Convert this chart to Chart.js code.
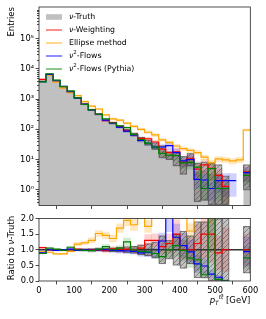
<!DOCTYPE html>
<html>
<head>
<meta charset="utf-8">
<script src="https://cdn.jsdelivr.net/npm/chart.js@4"></script>
<style>
  html, body { margin: 0; padding: 0; background: #fff; }
  #wrap { position: relative; width: 266px; height: 319px; }
  canvas { position: absolute; left: 0; }
  #topChart { top: 0; }
  #ratioChart { top: 212px; }
</style>
</head>
<body>
<div id="wrap">
  <canvas id="topChart" width="266" height="212" style="width:266px;height:212px"></canvas>
  <canvas id="ratioChart" width="266" height="107" style="width:266px;height:107px"></canvas>
</div>
<script>
// bins of p_T(tt) in GeV
const binEdges = [0, 20, 40, 60, 80, 100, 120, 140, 160, 180, 200, 220, 240, 260, 280, 300,
  320, 340, 360, 380, 400, 420, 440, 460, 480, 500, 520, 540, 560, 580, 600];

// entries per bin (top panel)
const truth = [4200, 6600, 4200, 2650, 1720, 1100, 680, 450, 315, 200, 162, 123, 91, 68, 48, 37,
  29, 20, 14, 12, 8, 11, 4, 4.4, 3.4, 3.4, 1.3, 0, 0, 3.9];
const weighting = [4500, 6600, 4100, 2600, 1720, 1120, 680, 450, 315, 194, 167, 123, 93, 68, 50, 48,
  38, 22, 17, 18, 8, 11, 4.8, 6.6, 5.1, 3, 1.3, 0, 0, 3.9];
const ellipse = [3900, 6100, 3650, 2300, 1630, 1300, 830, 585, 470, 300, 220, 200, 160, 125, 100, 80,
  65, 45, 37, 28, 23, 20, 17, 12, 7.8, 10.5, 9.8, 9, 9.8, 95];
const flows = [3780, 6600, 4120, 2650, 1750, 1080, 680, 440, 315, 200, 159, 119, 87, 65, 43, 34,
  26, 26, 29, 17, 9, 10, 2.2, 2.1, 1.1, 2, 2, 2, 0, 3.7];
const flowsPythia = [3700, 6900, 4280, 2600, 1860, 1100, 670, 440, 320, 220, 162, 129, 114, 68, 46, 34,
  26, 16, 14, 13.5, 7.8, 8, 5.6, 1.1, 5, 1.1, 1.1, 0, 0, 3];

// ratio to truth (bottom panel)
const weightingRatio = [1.07, 1.0, 0.98, 0.98, 1.0, 1.02, 1.0, 1.0, 1.0, 0.97, 1.03, 1.0, 1.02, 1.0, 1.05, 1.3,
  1.3, 1.1, 1.2, 1.5, 1.0, 1.0, 1.2, 1.5, 1.5, 0.9, 1.0, null, null, 1.0];
const ellipseRatio = [0.93, 0.92, 0.87, 0.87, 0.95, 1.18, 1.22, 1.3, 1.52, 1.46, 1.36, 1.69, 1.94, 1.8, 2.3, 1.75,
  2.3, 2.3, 2.6, 2.3, 2.9, 1.6, 4.2, 2.7, 2.3, 3.1, 7.5, null, null, 24];
const flowsRatio = [0.9, 1.0, 0.98, 1.0, 1.02, 0.98, 1.0, 0.98, 1.0, 1.0, 0.98, 0.97, 0.96, 0.95, 0.9, 0.92,
  0.88, 1.28, 2.1, 1.4, 1.13, 0.93, 0.55, 0.48, 0.22, 0.12, 0, null, null, 0.94];
const flowsPythiaRatio = [0.88, 1.05, 1.02, 0.98, 1.08, 1.0, 0.98, 0.97, 1.02, 1.1, 1.0, 1.05, 1.25, 1.0, 0.95, 0.93,
  0.88, 0.78, 1.0, 1.13, 0.98, 0.73, 0.68, 0.2, 2.3, 0.05, 0, null, null, 0.74];

// relative uncertainties per bin
const truthErr = [0.01, 0.01, 0.01, 0.015, 0.02, 0.025, 0.03, 0.035, 0.04, 0.05, 0.06, 0.08, 0.1, 0.12, 0.16, 0.2,
  0.25, 0.45, 0.3, 0.5, 0.6, 0.45, 0.9, 0.9, 1.2, 1.0, 1.2, 0, 0, 0.75];
const weightingErr = [0.02, 0.02, 0.02, 0.02, 0.03, 0.03, 0.04, 0.04, 0.05, 0.06, 0.07, 0.08, 0.09, 0.1, 0.12, 0.14,
  0.16, 0.2, 0.25, 0.3, 0.3, 0.35, 0.5, 0.5, 0.6, 0.6, 0.7, 0.7, 0.7, 0.5];
const ellipseErr = [0.02, 0.02, 0.02, 0.03, 0.03, 0.05, 0.05, 0.06, 0.06, 0.07, 0.08, 0.08, 0.09, 0.1, 0.1, 0.11,
  0.12, 0.12, 0.13, 0.14, 0.15, 0.15, 0.16, 0.18, 0.2, 0.2, 0.2, 0.2, 0.2, 0.08];
const flowsErr = [0.02, 0.02, 0.02, 0.02, 0.03, 0.03, 0.04, 0.05, 0.05, 0.06, 0.07, 0.08, 0.09, 0.1, 0.12, 0.15,
  0.18, 0.2, 0.25, 0.3, 0.35, 0.4, 0.5, 0.5, 0.6, 0.6, 0.7, 0.7, 0.7, 0.5];
const flowsPythiaErr = [0.02, 0.02, 0.02, 0.02, 0.03, 0.03, 0.04, 0.05, 0.05, 0.06, 0.07, 0.08, 0.1, 0.1, 0.12, 0.14,
  0.18, 0.22, 0.25, 0.3, 0.35, 0.4, 0.5, 0.6, 0.6, 0.6, 0.7, 0.7, 0.7, 0.5];

// axis ticks
const xTicks = [0, 100, 200, 300, 400, 500, 600];
const logTicks = [1, 10, 100, 1000, 10000, 100000];
const ratioTicks = [0, 0.5, 1.0, 1.5, 2.0];
const unity = 1;

const FONT = 'DejaVu Sans';
const TICK_SIZE = 8.3;
const LABEL_SIZE = 8.5;
const LEGEND_SIZE = 7.8;

const YMIN = 0.32, YMAX = 1.12e6;

const binCenters = binEdges.slice(0, -1).map((e, i) => (e + binEdges[i + 1]) / 2);

function stepPoints(vals) {
    const pts = [];
    vals.forEach((v, i) => {
        pts.push({ x: binEdges[i], y: v }, { x: binEdges[i + 1], y: v });
    });
    return pts;
}

function boxes(vals, err, floor) {
    const out = [];
    vals.forEach((v, i) => {
        if (v === null || v === 0 || err[i] === null) return;
        const lo = Math.max(v * (1 - err[i]), floor);
        out.push({ x: binCenters[i], y: [lo, v * (1 + err[i])] });
    });
    return out;
}

function hatch() {
    const c = document.createElement('canvas');
    c.width = 5; c.height = 5;
    const g = c.getContext('2d');
    g.fillStyle = 'rgba(95,85,85,0.36)';
    g.fillRect(0, 0, 5, 5);
    g.strokeStyle = 'rgba(60,60,60,0.6)';
    g.lineWidth = 0.8;
    g.beginPath();
    g.moveTo(0, 5); g.lineTo(5, 0);
    g.moveTo(-1, 1); g.lineTo(1, -1);
    g.moveTo(4, 6); g.lineTo(6, 4);
    g.stroke();
    return g.createPattern(c, 'repeat');
}
const hatchFill = hatch();

const series = [
    { label: 'ν-Weighting', color: '#ff0000', band: 'rgba(255,0,0,0.18)' },
    { label: 'Ellipse method', color: '#ffa500', band: 'rgba(255,165,0,0.25)' },
    { label: 'ν²-Flows', color: '#0000ff', band: 'rgba(0,0,255,0.18)' },
    { label: 'ν²-Flows (Pythia)', color: '#008000', band: 'rgba(0,128,0,0.18)' }
];

function lineSet(vals, color, order) {
    return {
        type: 'line', data: stepPoints(vals), borderColor: color, borderWidth: 1.2,
        pointRadius: 0, fill: false, tension: 0, order: order, clip: 0
    };
}
function barSet(data, bg, order, border) {
    return {
        type: 'bar', data: data, backgroundColor: bg, borderWidth: border ? 0.6 : 0,
        borderColor: 'rgba(60,55,55,0.6)', borderSkipped: false, grouped: false,
        barPercentage: 1, categoryPercentage: 1, order: order, clip: 0
    };
}

// rich text helper for labels with italic / super / subscripts
function runsWidth(ctx, runs, size) {
    let w = 0;
    runs.forEach(([t, st]) => {
        const small = st.includes('sup') || st.includes('sub');
        ctx.font = (st.startsWith('i') ? 'italic ' : '') + (small ? size * 0.7 : size) + 'px "' + FONT + '"';
        w += ctx.measureText(t).width;
    });
    return w;
}
function drawRuns(ctx, x, y, runs, size) {
    let cx = x;
    runs.forEach(([t, st]) => {
        const small = st.includes('sup') || st.includes('sub');
        const fs = small ? size * 0.7 : size;
        ctx.font = (st.startsWith('i') ? 'italic ' : '') + fs + 'px "' + FONT + '"';
        const dy = st.includes('sup') ? -size * 0.42 : st.includes('sub') ? size * 0.22 : 0;
        ctx.fillText(t, cx, y + dy);
        const w = ctx.measureText(t).width;
        if (st.includes('bar')) {
            ctx.save();
            ctx.strokeStyle = '#000'; ctx.lineWidth = 0.6;
            ctx.beginPath();
            ctx.moveTo(cx + 0.3, y + dy - fs * 0.85);
            ctx.lineTo(cx + w - 0.3, y + dy - fs * 0.85);
            ctx.stroke();
            ctx.restore();
        }
        cx += w;
    });
}

const framePlugin = {
    id: 'frame',
    afterDraw(chart) {
        const { ctx, chartArea: a } = chart;
        ctx.save();
        ctx.strokeStyle = '#222';
        ctx.lineWidth = 0.8;
        ctx.strokeRect(a.left, a.top, a.right - a.left, a.bottom - a.top);
        const ys = chart.scales.y;
        if (ys.type === 'logarithmic') {
            ctx.beginPath();
            for (let e = -1; e <= 6; e++) {
                for (let m = 2; m <= 9; m++) {
                    const v = m * Math.pow(10, e);
                    if (v < YMIN || v > YMAX) continue;
                    const py = Math.round(ys.getPixelForValue(v)) + 0.5;
                    ctx.moveTo(a.left, py);
                    ctx.lineTo(a.left - 2, py);
                }
            }
            ctx.stroke();
        }
        ctx.restore();
    }
};

const supDigits = ['⁰', '¹', '²', '³', '⁴', '⁵', '⁶'];

function axisCommon(extra) {
    return Object.assign({
        grid: { drawOnChartArea: false, drawTicks: true, tickLength: 3.5, color: '#222', lineWidth: 0.8 },
        border: { display: false }
    }, extra);
}

// ---------- top panel ----------
const topLegend = {
    id: 'topLegend',
    afterDraw(chart) {
        const ctx = chart.ctx;
        ctx.save();
        ctx.textBaseline = 'middle';
        ctx.fillStyle = '#000';
        const rows = [17, 30, 43, 56, 69];
        // truth patch
        ctx.fillStyle = '#c0c0c0';
        ctx.fillRect(46, rows[0] - 2.8, 16, 5.6);
        ctx.fillStyle = '#000';
        drawRuns(ctx, 69, rows[0], [['ν', 'i'], ['-Truth', '']], LEGEND_SIZE);
        const labels = [
            [['ν', 'i'], ['-Weighting', '']],
            [['Ellipse method', '']],
            [['ν', 'i'], ['2', 'sup'], ['-Flows', '']],
            [['ν', 'i'], ['2', 'sup'], ['-Flows (Pythia)', '']]
        ];
        series.forEach((s, i) => {
            const y = rows[i + 1];
            ctx.strokeStyle = s.color;
            ctx.globalAlpha = 0.75;
            ctx.lineWidth = 1.2;
            ctx.beginPath();
            ctx.moveTo(46, y); ctx.lineTo(62, y);
            ctx.stroke();
            ctx.globalAlpha = 1;
            drawRuns(ctx, 69, y, labels[i], LEGEND_SIZE);
        });
        // y label
        ctx.translate(12, 7);
        ctx.rotate(-Math.PI / 2);
        ctx.textAlign = 'right';
        ctx.font = LABEL_SIZE + 'px "' + FONT + '"';
        ctx.fillText('Entries', 0, 0);
        ctx.restore();
    }
};

const topVals = [weighting, ellipse, flows, flowsPythia];
const topErrs = [weightingErr, ellipseErr, flowsErr, flowsPythiaErr];

const topDatasets = [
    {
        type: 'line', data: stepPoints(truth), borderWidth: 0, borderColor: 'rgba(0,0,0,0)',
        backgroundColor: '#c0c0c0', fill: 'start', pointRadius: 0, tension: 0, order: 20, clip: 0
    },
    barSet(boxes(truth, truthErr, YMIN), hatchFill, 9, true)
];
series.forEach((s, i) => {
    topDatasets.push(barSet(boxes(topVals[i], topErrs[i], YMIN), s.band, 15 - i, false));
    topDatasets.push(lineSet(topVals[i], s.color, 5 - i));
});

new Chart(document.getElementById('topChart'), {
    type: 'line',
    data: { datasets: topDatasets },
    options: {
        responsive: false, animation: false, events: [],
        layout: { padding: { top: 7, right: 15.7, left: 0, bottom: 0 } },
        plugins: { legend: { display: false }, tooltip: { enabled: false } },
        scales: {
            x: axisCommon({
                type: 'linear', min: 0, max: 600, offset: false,
                afterBuildTicks: s => { s.ticks = xTicks.map(v => ({ value: v })); },
                afterFit: s => { s.height = 6; },
                ticks: { display: false }
            }),
            y: axisCommon({
                type: 'logarithmic', min: YMIN, max: YMAX,
                afterBuildTicks: s => { s.ticks = logTicks.map(v => ({ value: v })); },
                afterFit: s => { s.width = 39; },
                ticks: {
                    color: '#000', padding: 1.5, font: { family: FONT, size: TICK_SIZE },
                    callback: v => '10' + supDigits[Math.round(Math.log10(v))]
                }
            })
        }
    },
    plugins: [framePlugin, topLegend]
});

// ---------- ratio panel ----------
const ratioVals = [weightingRatio, ellipseRatio, flowsRatio, flowsPythiaRatio];
const ratioDatasets = [
    barSet(boxes(truth.map(v => (v ? unity : null)), truthErr, 0), hatchFill, 9, true),
    {
        type: 'line', data: [{ x: binEdges[0], y: unity }, { x: binEdges[binEdges.length - 1], y: unity }],
        borderColor: '#333', borderWidth: 1.3, pointRadius: 0, fill: false, order: 6, clip: 0
    }
];
series.forEach((s, i) => {
    ratioDatasets.push(barSet(boxes(ratioVals[i], topErrs[i], 0), s.band, 15 - i, false));
    ratioDatasets.push(lineSet(ratioVals[i], s.color, 5 - i));
});

const ratioLabels = {
    id: 'ratioLabels',
    afterDraw(chart) {
        const ctx = chart.ctx;
        ctx.save();
        ctx.fillStyle = '#000';
        ctx.textBaseline = 'alphabetic';
        const xl = [['p', 'i'], ['T', 'isub'], ['t', 'isup'], ['t', 'isupbar'], [' [GeV]', '']];
        const w = runsWidth(ctx, xl, LABEL_SIZE);
        drawRuns(ctx, 250.3 - w, 91, xl, LABEL_SIZE);
        const yl = [['Ratio to ', ''], ['ν', 'i'], ['-Truth', '']];
        const wy = runsWidth(ctx, yl, LABEL_SIZE);
        ctx.translate(12, 36);
        ctx.rotate(-Math.PI / 2);
        ctx.textBaseline = 'middle';
        drawRuns(ctx, -wy / 2, 0, yl, LABEL_SIZE);
        ctx.restore();
    }
};

new Chart(document.getElementById('ratioChart'), {
    type: 'line',
    data: { datasets: ratioDatasets },
    options: {
        responsive: false, animation: false, events: [],
        layout: { padding: { top: 3, right: 15.7, left: 0, bottom: 0 } },
        plugins: { legend: { display: false }, tooltip: { enabled: false } },
        scales: {
            x: axisCommon({
                type: 'linear', min: 0, max: 600, offset: false,
                afterBuildTicks: s => { s.ticks = xTicks.map(v => ({ value: v })); },
                afterFit: s => { s.height = 38; },
                ticks: { color: '#000', padding: 1, maxRotation: 0, font: { family: FONT, size: TICK_SIZE } }
            }),
            y: axisCommon({
                type: 'linear', min: 0, max: 2,
                afterBuildTicks: s => { s.ticks = ratioTicks.map(v => ({ value: v })); },
                afterFit: s => { s.width = 39; },
                ticks: {
                    color: '#000', padding: 1.5, font: { family: FONT, size: TICK_SIZE },
                    callback: v => v.toFixed(1)
                }
            })
        }
    },
    plugins: [framePlugin, ratioLabels]
});
</script>
</body>
</html>
